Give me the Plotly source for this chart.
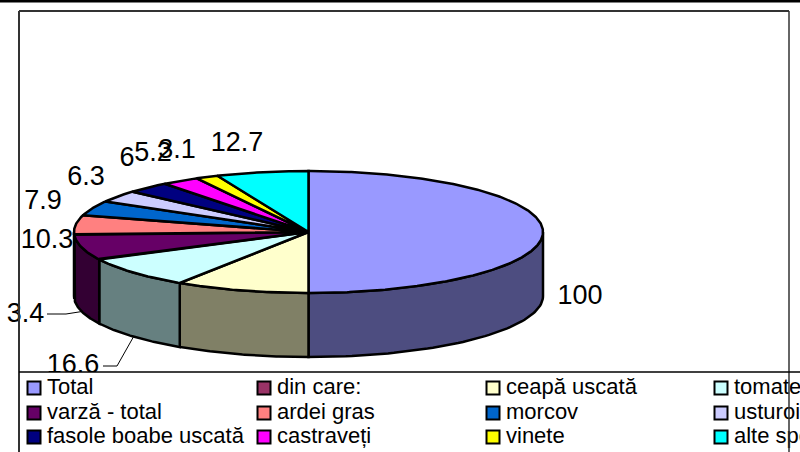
import numpy as np
import plotly.graph_objects as go

categories = ["Total", "din care:", "ceapă uscată", "tomate",
              "varză - total", "ardei gras", "morcov", "usturoi",
              "fasole boabe uscată", "castraveți", "vinete", "alte specii"]
values = [100, 0, 18.5, 16.6, 13.4, 10.3, 7.9, 6.3, 6, 5.2, 3.1, 12.7]
value_labels = ["100", "", "18.5", "16.6", "13.4", "10.3", "7.9", "6.3", "6", "5.2", "3.1", "12.7"]
colors = ["#9999FF", "#993366", "#FFFFCC", "#CCFFFF", "#660066", "#FF8080",
          "#0066CC", "#CCCCFF", "#000080", "#FF00FF", "#FFFF00", "#00FFFF"]

# pie geometry, in pixels of the 800x452 page
CX, CY, RX, RY, DEPTH = 308.5, 232, 234.5, 61, 64
FONT = "Liberation Sans, Arial, sans-serif"
# label centres
label_x = [580, None, 216, 73, 18, 47, 43, 86, 127, 153, 177, 237]
label_y = [297, None, 384, 366, 315, 241, 202, 178, 159, 154, 151, 144]
# legend layout
legend_cols_x = [27, 257, 486, 714]
legend_rows_y = [388, 413, 437]


def shade(c):
    r, g, b = (int(c[i:i + 2], 16) for i in (1, 3, 5))
    return f"rgb({(r + 1) // 2},{(g + 1) // 2},{(b + 1) // 2})"


def px(a):
    return CX + RX * np.sin(np.radians(a))


def py(a):
    return CY - RY * np.cos(np.radians(a))


fig = go.Figure()

total = sum(values)
edges = np.concatenate([[0], np.cumsum(values)]) / total * 360

# walls
for v, c, a0, a1 in zip(values, colors, edges[:-1], edges[1:]):
    lo, hi = max(a0, 90), min(a1, 270)
    if v <= 0 or hi <= lo:
        continue
    t = np.linspace(lo, hi, 60)
    xs = np.concatenate([px(t), px(t[::-1]), [px(t[0])]])
    ys = np.concatenate([py(t), py(t[::-1]) + DEPTH, [py(t[0])]])
    fig.add_trace(go.Scatter(x=xs, y=ys, mode="lines", fill="toself", fillcolor=shade(c),
                             line=dict(color="black", width=2.5), hoverinfo="skip", showlegend=False))

# top faces
for v, c, a0, a1, name in zip(values, colors, edges[:-1], edges[1:], categories):
    if v <= 0:
        continue
    t = np.linspace(a0, a1, max(12, int(a1 - a0) * 2))
    xs = np.concatenate([[CX], px(t), [CX]])
    ys = np.concatenate([[CY], py(t), [CY]])
    fig.add_trace(go.Scatter(x=xs, y=ys, mode="lines", fill="toself", fillcolor=c,
                             line=dict(color="black", width=2.5), name=name,
                             text=f"{name}: {v}", hoverinfo="text", showlegend=False))

# leader lines, ending on the bottom rim at each slice's middle
mid = (edges[:-1] + edges[1:]) / 2
i_var, i_tom = categories.index("varză - total"), categories.index("tomate")
fig.add_trace(go.Scatter(x=[47, 66, px(mid[i_var])], y=[314, 314, py(mid[i_var]) + DEPTH],
                         mode="lines", line=dict(color="black", width=1),
                         hoverinfo="skip", showlegend=False))
fig.add_trace(go.Scatter(x=[103, 117, px(mid[i_tom])], y=[366, 366, py(mid[i_tom]) + DEPTH],
                         mode="lines", line=dict(color="black", width=1),
                         hoverinfo="skip", showlegend=False))

# value labels
shown = [i for i, t in enumerate(value_labels) if t]
fig.add_trace(go.Scatter(x=[label_x[i] for i in shown], y=[label_y[i] for i in shown],
                         mode="text", text=[value_labels[i] for i in shown],
                         textposition="middle center",
                         textfont=dict(family=FONT, size=27, color="black"),
                         hoverinfo="skip", showlegend=False))

# legend panel and left margin hide whatever falls outside the chart
fig.add_trace(go.Scatter(x=[0, 800, 800, 0, 0], y=[372, 372, 452, 452, 372], mode="lines",
                         fill="toself", fillcolor="white", line=dict(color="rgba(0,0,0,0)", width=0),
                         hoverinfo="skip", showlegend=False))
fig.add_trace(go.Scatter(x=[0, 7, 7, 0, 0], y=[290, 290, 340, 340, 290], mode="lines",
                         fill="toself", fillcolor="white", line=dict(color="rgba(0,0,0,0)", width=0),
                         hoverinfo="skip", showlegend=False))

sw_x, sw_y, txt_x = [], [], []
for i, name in enumerate(categories):
    sw_x.append(legend_cols_x[i % 4] + 7)
    sw_y.append(legend_rows_y[i // 4])
    txt_x.append(legend_cols_x[i % 4] + 20)
fig.add_trace(go.Scatter(x=sw_x, y=sw_y, mode="markers",
                         marker=dict(symbol="square", size=13, color=colors, line=dict(color="black", width=2)),
                         hoverinfo="skip", showlegend=False))
fig.add_trace(go.Scatter(x=txt_x, y=sw_y, mode="text", text=categories, textposition="middle right",
                         textfont=dict(family=FONT, size=22, color="black"),
                         hoverinfo="skip", showlegend=False))

line = dict(color="#333333", width=2)
fig.update_layout(
    width=800, height=452, margin=dict(l=0, r=0, t=0, b=0),
    paper_bgcolor="white", plot_bgcolor="white", showlegend=False,
    xaxis=dict(range=[0, 800], visible=False, fixedrange=True),
    yaxis=dict(range=[452, 0], visible=False, fixedrange=True),
    shapes=[
        dict(type="line", x0=19, x1=19, y0=11, y1=452, line=line, layer="above"),
        dict(type="line", x0=19, x1=789, y0=11, y1=11, line=line, layer="above"),
        dict(type="line", x0=789, x1=789, y0=11, y1=452, line=dict(color="#333333", width=1.5), layer="above"),
        dict(type="line", x0=19, x1=800, y0=372, y1=372, line=dict(color="black", width=1.5), layer="above"),
        dict(type="line", x0=0, x1=800, y0=1, y1=1, line=dict(color="black", width=3), layer="above"),
    ],
)
fig.write_html("out.html", config={"displayModeBar": False},
               post_script="document.body.style.margin='0';document.body.style.overflow='hidden';")
